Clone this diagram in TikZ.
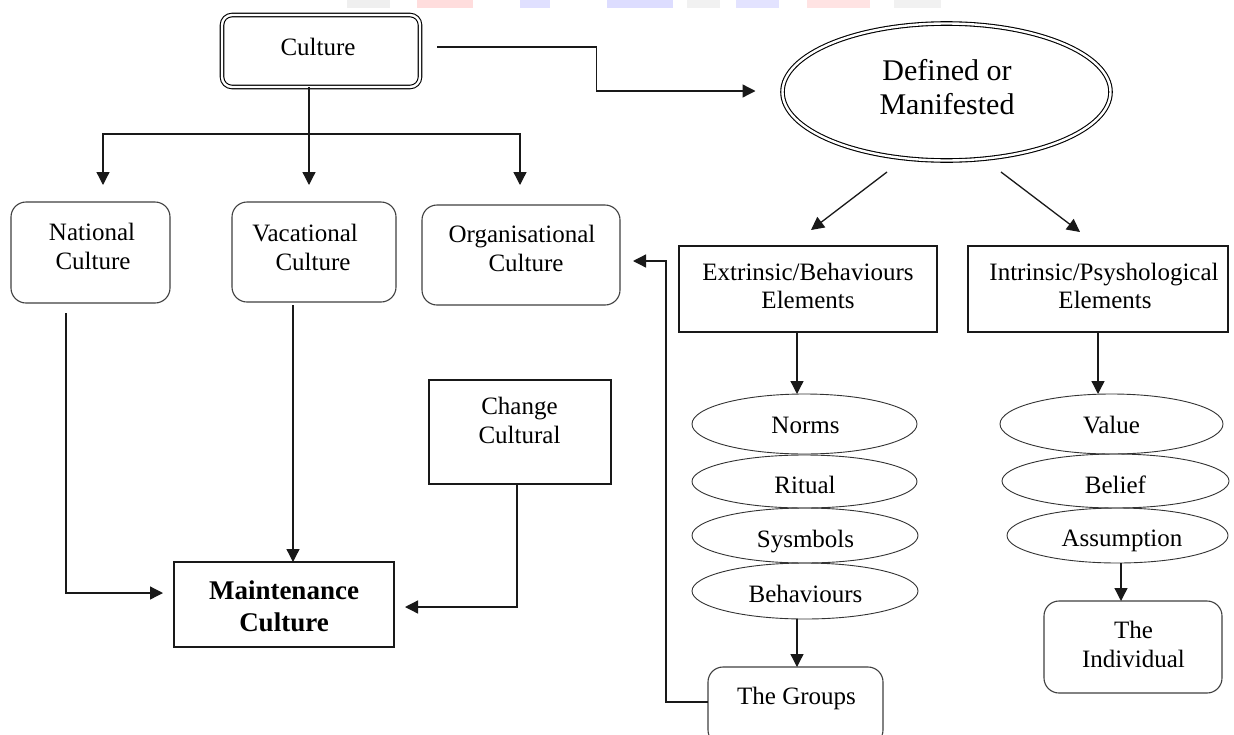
\documentclass[tikz,border=0pt]{standalone}
\usepackage{fontspec}
\setmainfont{Liberation Serif}
\usetikzlibrary{arrows.meta,shapes.geometric,calc}
\begin{document}
\begin{tikzpicture}[x=1pt,y=-1pt,
  every node/.style={inner sep=0pt, outer sep=0pt},
  ln/.style={line width=1.3pt, draw=black!90},
  arr/.style={ln, -{Triangle[length=13pt,width=13pt]}},
  rbox/.style={draw=black!75, line width=1.1pt, rounded corners=15pt},
  sbox/.style={draw=black!90, line width=1.4pt},
  oval/.style={draw=black!80, line width=0.9pt, ellipse},
  dbl/.style={draw=black, line width=1.1pt, double=white, double distance=2.4pt},
  txt/.style={anchor=base, font=\fontsize{25}{29}\selectfont},
  big/.style={anchor=base, font=\fontsize{30}{34}\selectfont},
  bld/.style={anchor=base, font=\fontsize{27}{31}\selectfont\bfseries},
  wm/.style={opacity=0.6},
]
\clip (0,0) rectangle (1234,734);
\fill[white] (0,0) rectangle (1234,734);
% faint watermark band
\fill[wm,gray!20]   (347,0) rectangle (390,8);
\fill[wm,red!22]    (417,0) rectangle (473,8);
\fill[wm,blue!20]   (520,0) rectangle (550,8);
\fill[wm,blue!22]   (607,0) rectangle (673,8);
\fill[wm,gray!18]   (687,0) rectangle (720,8);
\fill[wm,blue!18]   (736,0) rectangle (779,8);
\fill[wm,red!18]    (807,0) rectangle (870,8);
\fill[wm,gray!18]   (894,0) rectangle (941,8);

% ---------- shapes ----------
\node[dbl, rounded corners=10pt, minimum width=198pt, minimum height=72pt] (cul) at (321,51) {};
\node[dbl, ellipse, minimum width=328pt, minimum height=137pt] (def) at (946.5,92) {};

\node[rbox, minimum width=159pt, minimum height=101pt] (nat) at (90.5,252.5) {};
\node[rbox, minimum width=164pt, minimum height=100pt] (vac) at (314,252) {};
\node[rbox, minimum width=198pt, minimum height=100pt] (org) at (521,255) {};

\node[sbox, minimum width=258pt, minimum height=86pt] (ext) at (808,289) {};
\node[sbox, minimum width=260pt, minimum height=86pt] (int) at (1098,289) {};

\node[oval, minimum width=225pt, minimum height=60pt] (nor) at (804.5,424) {};
\node[oval, minimum width=225pt, minimum height=53pt] (rit) at (804.5,481.5) {};
\node[oval, minimum width=226pt, minimum height=55pt] (sym) at (805,535.5) {};
\node[oval, minimum width=226pt, minimum height=56pt] (beh) at (805,591) {};

\node[oval, minimum width=223pt, minimum height=60pt] (val) at (1111.5,424) {};
\node[oval, minimum width=227pt, minimum height=54pt] (bel) at (1115.5,481) {};
\node[oval, minimum width=221pt, minimum height=55pt] (asm) at (1117.5,535.5) {};

\node[rbox, minimum width=175pt, minimum height=78pt] (grp) at (795.5,706) {};
\node[rbox, minimum width=178pt, minimum height=92pt] (ind) at (1133,647) {};

\node[sbox, minimum width=220pt, minimum height=85pt] (mnt) at (284,604.5) {};
\node[sbox, minimum width=182pt, minimum height=104pt] (chg) at (520,432) {};

% ---------- texts ----------
\node[txt] (culT) at (318,55) {Culture};
\node[big] (defT1) at (947,80) {Defined or};
\node[big] (defT2) at (947,114) {Manifested};
\node[txt] (natT1) at (92,240) {National};
\node[txt] (natT2) at (93,269) {Culture};
\node[txt] (vacT1) at (305,241) {Vacational};
\node[txt] (vacT2) at (313,270) {Culture};
\node[txt] (orgT1) at (522,242) {Organisational};
\node[txt] (orgT2) at (526,271) {Culture};
\node[txt] (extT1) at (808,280) {Extrinsic/Behaviours};
\node[txt] (extT2) at (808,308) {Elements};
\node[txt] (intT1) at (1104,280) {Intrinsic/Psyshological};
\node[txt] (intT2) at (1105,308) {Elements};
\node[txt] (norT) at (805.5,433) {Norms};
\node[txt] (ritT) at (805,493) {Ritual};
\node[txt] (symT) at (805.5,547) {Sysmbols};
\node[txt] (behT) at (805.5,602) {Behaviours};
\node[txt] (grpT) at (796.5,704) {The Groups};
\node[txt] (valT) at (1111.5,433) {Value};
\node[txt] (belT) at (1115.5,493) {Belief};
\node[txt] (asmT) at (1122,546) {Assumption};
\node[txt] (indT1) at (1133.5,638) {The};
\node[txt] (indT2) at (1133.5,667) {Individual};
\node[bld] (mntT1) at (284,599) {Maintenance};
\node[bld] (mntT2) at (284,631) {Culture};
\node[txt] (chgT1) at (519.5,414) {Change};
\node[txt] (chgT2) at (519.5,443) {Cultural};

% ---------- connectors ----------
\draw[arr] ($(cul.east)+(17,-4)$) -| ($(def.west)+(-186,-1)$) -- ($(def.west)+(-27,-1)$);

\coordinate (hub) at (309,134);
\draw[ln] (hub |- cul.south) -- (hub);
\draw[arr] (hub) -| ($(nat.north)+(12.5,-17)$);
\draw[arr] (hub) -- ($(hub |- vac.north)+(0,-17)$);
\draw[arr] (hub) -| ($(org.north)+(-1,-20)$);

\draw[arr] ($(def.south)+(-59.5,11.5)$) -- ($(ext.north)+(3,-16)$);
\draw[arr] ($(def.south)+(54.5,11.5)$) -- ($(int.north)+(-18,-14)$);

\draw[arr] ($(ext.south)+(-11,0)$) -- ($(nor.north)+(-7.5,0)$);
\draw[arr] ($(beh.south)+(-8,0)$) -- ($(grp.north)+(1.5,0)$);
\draw[arr] ($(grp.west)+(0,-4)$) -| ($(org.east)+(46,6)$) -- ($(org.east)+(13,6)$);

\draw[arr] (int.south) -- ($(val.north)+(-13.5,0)$);
\draw[arr] ($(asm.south)+(3.5,0)$) -- ($(ind.north)+(-12,0)$);

\draw[arr] ($(nat.south)+(-24.5,10)$) |- ($(mnt.west)+(-11,-11.5)$);
\draw[arr] ($(vac.south)+(-21,3)$) -- ($(mnt.north)+(9,0)$);
\draw[arr] ($(chg.south)+(-3,0)$) |- ($(mnt.east)+(11,2.5)$);
\end{tikzpicture}
\end{document}
